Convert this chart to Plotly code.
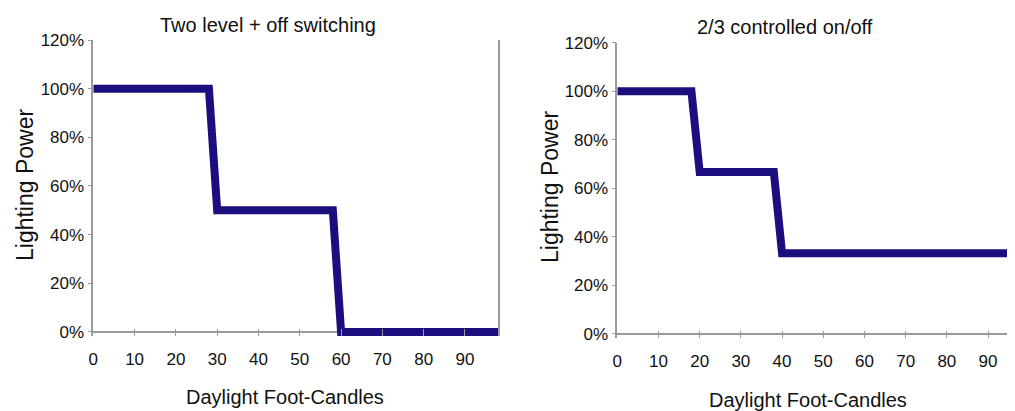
import plotly.graph_objects as go

# data
left_x = [0, 28, 30, 58, 60, 98]
left_y = [1.0, 1.0, 0.5, 0.5, 0.0, 0.0]
right_x = [0, 18, 20, 38, 40, 98]
right_y = [1.0, 1.0, 0.667, 0.667, 0.333, 0.333]

x_ticks = [0, 10, 20, 30, 40, 50, 60, 70, 80, 90]
y_ticks = [0, 0.2, 0.4, 0.6, 0.8, 1.0, 1.2]
y_labels = ['0%', '20%', '40%', '60%', '80%', '100%', '120%']

titles = ['Two level + off switching', '2/3 controlled on/off']
x_title = 'Daylight Foot-Candles'
y_title = 'Lighting Power'

line_col = '#1b0e7e'
axis_col = '#9a9a9a'
font_fam = 'Liberation Sans, Arial, sans-serif'

# the page body has an 8px margin, so the figure is drawn 8px in from the window
W, H, OFF = 1007, 403, 8

def fx(px):
    return (px - OFF) / W

def fy(py):
    return (H - (py - OFF)) / H

fig = go.Figure()
fig.add_trace(go.Scatter(x=left_x, y=left_y, mode='lines', xaxis='x', yaxis='y',
                         line=dict(color=line_col, width=8), showlegend=False))
fig.add_trace(go.Scatter(x=right_x, y=right_y, mode='lines', xaxis='x2', yaxis='y2',
                         line=dict(color=line_col, width=8), showlegend=False))

tick_font = dict(family=font_fam, size=17, color='#111')

def xax(dom, rng, anchor):
    return dict(domain=dom, range=rng, anchor=anchor, tickvals=x_ticks,
                showgrid=False, zeroline=False, showline=False, automargin=False,
                ticks='inside', ticklen=7, tickcolor=axis_col, ticklabelstandoff=11,
                tickfont=tick_font, fixedrange=True)

def yax(dom, anchor, mirror):
    return dict(domain=dom, range=[-0.017, 1.2], anchor=anchor,
                tickvals=y_ticks, ticktext=y_labels, showgrid=False,
                zeroline=True, zerolinecolor=axis_col, zerolinewidth=1.5,
                showline=True, linecolor=axis_col, linewidth=1.5, mirror=mirror,
                ticks='outside', ticklen=4, tickcolor=axis_col, automargin=False,
                tickfont=tick_font, fixedrange=True)

# top border lines through overlaid axes
def topax(rng, over, anchor):
    return dict(range=rng, overlaying=over, anchor=anchor, side='top',
                showline=True, linecolor=axis_col, linewidth=1.5, automargin=False,
                showticklabels=False, ticks='', showgrid=False, zeroline=False)

fig.update_layout(
    template='none',
    width=W, height=H,
    margin=dict(l=0, r=0, t=0, b=0, autoexpand=False),
    paper_bgcolor='white', plot_bgcolor='white',
    xaxis=xax([fx(93.3), fx(498)], [0, 98], 'y'),
    yaxis=yax([fy(336.1), fy(40)], 'x', True),
    xaxis2=xax([fx(617.3), 1.0], [0, 96.55], 'y2'),
    yaxis2=yax([fy(338.1), fy(42.7)], 'x2', False),
    xaxis3=topax([0, 98], 'x', 'y'),
    xaxis4=topax([0, 96.55], 'x2', 'y2'),
)

ann = [
    (titles[0], 268, 25, 0, 20),
    (titles[1], 785, 27, 0, 20),
    (y_title, 25, 185, -90, 23),
    (y_title, 550, 187, -90, 23),
    (x_title, 285, 397, 0, 20),
    (x_title, 808, 400, 0, 20),
]
for text, px, py, ang, sz in ann:
    fig.add_annotation(text=text, x=fx(px), y=fy(py),
                       xref='paper', yref='paper', showarrow=False,
                       xanchor='center', yanchor='middle', textangle=ang,
                       font=dict(family=font_fam, size=sz, color='#111'))

fig.write_html('out.html')
